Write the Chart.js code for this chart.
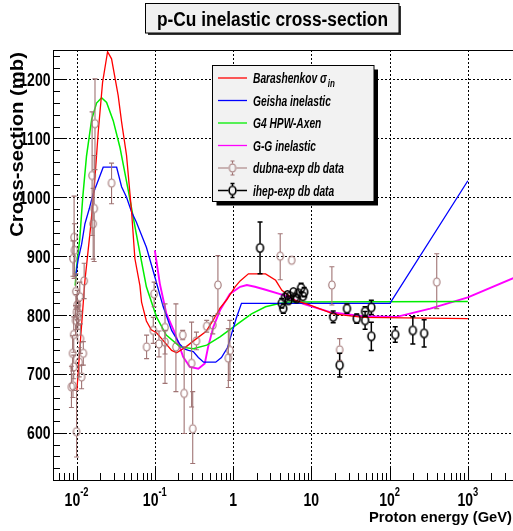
<!DOCTYPE html>
<html>
<head>
<meta charset="utf-8">
<title>p-Cu inelastic cross-section</title>
<script src="https://cdn.jsdelivr.net/npm/chart.js@4.4.1/dist/chart.umd.min.js"></script>
<style>
  html, body { margin: 0; padding: 0; background: #fff; overflow: hidden; }
  canvas { display: block; }
</style>
</head>
<body>
<canvas id="xsChart" width="520" height="531"></canvas>
<script>
// model curves: proton energy (GeV) -> inelastic cross-section (mb)
const barE  = [0.0101, 0.0113, 0.0128, 0.0150, 0.0168, 0.0189, 0.0215, 0.0249, 0.0280, 0.0340, 0.0376, 0.0435, 0.0505, 0.0556, 0.0645, 0.0677, 0.078, 0.090, 0.105, 0.122, 0.164, 0.190, 0.250, 0.340, 0.450, 0.550, 0.680, 0.830, 1.06, 1.23, 1.57, 2.6, 3.5, 4.2, 6.2, 9.1, 19, 46, 1000];
const barXS = [672, 763, 859, 945, 1015, 1110, 1195, 1247, 1235, 1173, 1128, 1071, 975, 896, 850, 822, 790, 775, 770, 760, 740, 736, 746, 760, 772, 790, 812, 826, 848, 858, 870, 870, 859, 842, 825, 818, 802, 796, 794];

const geiE  = [0.0097, 0.0105, 0.0116, 0.0128, 0.0145, 0.0163, 0.0219, 0.0325, 0.0376, 0.0435, 0.0505, 0.058, 0.078, 0.1, 0.128, 0.164, 0.21, 0.242, 0.27, 0.31, 0.36, 0.42, 0.6, 0.71, 0.85, 0.96, 1.1, 1.28, 101, 1000];
const geiXS = [865, 895, 920, 955, 980, 1006, 1051, 1051, 1018, 1000, 975, 958, 915, 865, 814, 774, 750, 742, 740, 738, 728, 720, 720, 728, 745, 769, 795, 820, 820, 1028];

const hpwE  = [0.0096, 0.0100, 0.0110, 0.0120, 0.0134, 0.0156, 0.018, 0.0209, 0.0242, 0.0294, 0.0358, 0.0457, 0.058, 0.0645, 0.078, 0.105, 0.14, 0.21, 0.31, 0.46, 0.68, 1.23, 1.72, 2.6, 4.0, 5.3, 1000];
const hpwXS = [850, 880, 930, 1000, 1070, 1132, 1160, 1169, 1161, 1130, 1085, 1012, 938, 905, 848, 797, 766, 746, 743, 749, 763, 788, 802, 814, 820, 822, 823];

const ggE  = [0.1, 0.116, 0.14, 0.18, 0.23, 0.28, 0.36, 0.435, 0.48, 0.56, 0.68, 0.91, 1.23, 1.5, 1.9, 2.6, 4.4, 7.9, 17.4, 46, 123, 330, 1000, 4000];
const ggXS = [910, 853, 803, 770, 729, 712, 709, 718, 746, 780, 808, 836, 848, 851, 848, 843, 834, 819, 805, 798, 797, 811, 830, 864];

// measured points with lower / upper errors (mb)
const dubE  = [0.0086, 0.0090, 0.0089, 0.0092, 0.0092, 0.0093, 0.0094, 0.0090, 0.0100, 0.0097, 0.0098, 0.0100, 0.0102, 0.0104, 0.0106, 0.0110, 0.0108, 0.0112, 0.0116, 0.0122, 0.0125, 0.0158, 0.0163, 0.0168, 0.0172, 0.028, 0.0785, 0.0955, 0.098, 0.113, 0.135, 0.135, 0.186, 0.227, 0.237, 0.295, 0.305, 0.34, 0.46, 0.55, 0.64, 0.87, 0.91, 4.0, 5.6, 18.3, 23, 400];
const dubXS = [678, 680, 735, 712, 767, 932, 910, 896, 602, 791, 840, 805, 817, 796, 803, 831, 720, 760, 695, 735, 858, 1037, 955, 981, 1125, 1024, 746, 774, 836, 751, 779, 754, 746, 766, 667, 718, 607, 756, 781, 783, 851, 727, 740, 900, 893, 851, 741, 856];
const dubLo = [35, 20, 30, 20, 30, 70, 45, 30, 43, 25, 30, 30, 25, 20, 20, 25, 25, 25, 20, 20, 30, 102, 60, 90, 78, 35, 20, 22, 22, 22, 95, 20, 76, 8, 68, 74, 59, 15, 10, 15, 49, 50, 51, 40, 5, 34, 18, 45];
const dubHi = [35, 20, 30, 20, 30, 70, 45, 30, 70, 25, 30, 30, 25, 20, 20, 25, 25, 25, 20, 20, 30, 108, 60, 90, 76, 34, 20, 22, 20, 22, 40, 20, 73, 8, 79, 70, 63, 15, 10, 15, 50, 50, 51, 38, 5, 31, 19, 48];

const ihepE   = [2.21, 4.18, 4.38, 4.6, 4.95, 5.1, 5.35, 5.9, 6.2, 6.5, 6.8, 7.4, 7.8, 8.1, 19.0, 23, 28.5, 38, 48.6, 48.6, 58.4, 58.4, 118, 198, 276];
const ihepXS  = [914, 820, 811, 830, 834, 825, 832, 839, 830, 828, 837, 846, 832, 839, 797, 715, 811, 794, 806, 791, 813, 764, 767, 774, 769];
const ihepErr = [44, 8, 8, 6, 6, 6, 6, 6, 6, 6, 6, 8, 6, 8, 10, 20, 8, 8, 8, 15, 12, 24, 13, 23, 23];

// axes
const xTicks = [0.01, 0.1, 1, 10, 100, 1000];
const xTickLabels = [["10", "-2"], ["10", "-1"], ["1", ""], ["10", ""], ["10", "2"], ["10", "3"]];
const yTicks = [600, 700, 800, 900, 1000, 1100, 1200];

const legendNames = ["Barashenkov \u03c3", "Geisha inelastic", "G4 HPW-Axen", "G-G inelastic", "dubna-exp db data", "ihep-exp db data"];

const FONT = '"Liberation Sans", Arial, Helvetica, sans-serif';
const DUBNA = "#a07474";
const lineColors = ["#ff0000", "#0000ff", "#00ee00", "#ff00ff"];

const pts = (xs, ys) => xs.map((x, i) => ({ x: x, y: ys[i] }));

// open elliptical markers (the whole figure is slightly squeezed sideways)
function ring(color, rx, ry, lw) {
    const c = document.createElement("canvas");
    c.width = Math.ceil(2 * rx + lw + 2);
    c.height = Math.ceil(2 * ry + lw + 2);
    const g = c.getContext("2d");
    g.strokeStyle = color;
    g.lineWidth = lw;
    g.beginPath();
    g.ellipse(c.width / 2, c.height / 2, rx, ry, 0, 0, Math.PI * 2);
    g.stroke();
    return c;
}
const dubRing = ring(DUBNA, 3.2, 4.0, 1.1);
const ihepRing = ring("#000", 3.4, 4.2, 1.6);

function putText(ctx, str, x, y, font, sx, align) {
    ctx.save();
    ctx.font = font;
    ctx.textAlign = "left";
    ctx.textBaseline = "alphabetic";
    const w = ctx.measureText(str).width * sx;
    const x0 = align === "right" ? x - w : align === "center" ? x - w / 2 : x;
    ctx.translate(x0, y);
    ctx.scale(sx, 1);
    ctx.fillText(str, 0, 0);
    ctx.restore();
    return w;
}

function textW(ctx, str, font, sx) {
    ctx.save();
    ctx.font = font;
    const w = ctx.measureText(str).width * sx;
    ctx.restore();
    return w;
}

function errorBars(ctx, xs, ys, E, V, lo, hi, color, lw, gap) {
    ctx.save();
    ctx.strokeStyle = color;
    ctx.lineWidth = lw;
    for (let i = 0; i < E.length; i++) {
        const x = xs.getPixelForValue(E[i]);
        const y = ys.getPixelForValue(V[i]);
        const yt = ys.getPixelForValue(V[i] + hi[i]);
        const yb = ys.getPixelForValue(V[i] - lo[i]);
        ctx.beginPath();
        if (y - yt > gap) {
            ctx.moveTo(x, y - gap); ctx.lineTo(x, yt);
            ctx.moveTo(x - 2.5, yt); ctx.lineTo(x + 2.5, yt);
        }
        if (yb - y > gap) {
            ctx.moveTo(x, y + gap); ctx.lineTo(x, yb);
            ctx.moveTo(x - 2.5, yb); ctx.lineTo(x + 2.5, yb);
        }
        ctx.stroke();
    }
    ctx.restore();
}

const rootLook = {
    id: "rootLook",
    beforeDatasetsDraw(chart) {
        const { ctx, chartArea: a, scales: { x, y } } = chart;
        ctx.save();
        ctx.strokeStyle = "#000";
        ctx.lineWidth = 1;
        ctx.setLineDash([2, 2]);
        ctx.beginPath();
        x.ticks.forEach(t => {
            const px = Math.round(x.getPixelForValue(t.value)) + 0.5;
            ctx.moveTo(px, a.top); ctx.lineTo(px, a.bottom);
        });
        y.ticks.forEach(t => {
            const py = Math.round(y.getPixelForValue(t.value)) + 0.5;
            ctx.moveTo(a.left, py); ctx.lineTo(a.right, py);
        });
        ctx.stroke();
        ctx.restore();
    },
    afterDatasetsDraw(chart) {
        const { ctx, chartArea: a, scales: { x, y } } = chart;
        ctx.save();
        ctx.beginPath();
        ctx.rect(a.left, a.top, a.right - a.left, a.bottom - a.top);
        ctx.clip();
        errorBars(ctx, x, y, dubE, dubXS, dubLo, dubHi, DUBNA, 1.1, 4.2);
        errorBars(ctx, x, y, ihepE, ihepXS, ihepErr, ihepErr, "#000", 1.5, 4.6);
        ctx.restore();
    },
    afterDraw(chart) {
        const { ctx, chartArea: a, scales: { x, y } } = chart;
        ctx.save();
        ctx.fillStyle = "#000";
        ctx.strokeStyle = "#000";
        ctx.lineWidth = 1;

        // frame
        ctx.strokeRect(a.left + 0.5, a.top + 0.5, a.right - a.left - 1, a.bottom - a.top);

        // inner ticks
        ctx.beginPath();
        for (let v = 520; v <= 1250; v += 20) {
            const py = Math.round(y.getPixelForValue(v)) + 0.5;
            const len = v % 100 === 0 ? 13 : 7;
            ctx.moveTo(a.left, py); ctx.lineTo(a.left + len, py);
        }
        for (let d = -3; d <= 3; d++) {
            for (let k = 1; k <= 9; k++) {
                const v = k * Math.pow(10, d);
                if (v < x.min || v > x.max) continue;
                const px = Math.round(x.getPixelForValue(v)) + 0.5;
                ctx.moveTo(px, a.bottom); ctx.lineTo(px, a.bottom - (k === 1 ? 13 : 7));
            }
        }
        ctx.stroke();

        // y tick labels
        const numFont = "bold 18px " + FONT;
        y.ticks.forEach(t => {
            putText(ctx, String(t.value), 50.5, y.getPixelForValue(t.value) + 6.5, numFont, 0.78, "right");
        });

        // x tick labels (power of ten with raised exponent)
        const supFont = "bold 12px " + FONT;
        x.ticks.forEach((t, i) => {
            const [base, sup] = xTickLabels[i];
            const wb = textW(ctx, base, numFont, 0.78);
            const ws = sup ? textW(ctx, sup, supFont, 0.78) : 0;
            const x0 = x.getPixelForValue(t.value) - (wb + ws) / 2;
            putText(ctx, base, x0, 506, numFont, 0.78, "left");
            if (sup) putText(ctx, sup, x0 + wb, 496, supFont, 0.78, "left");
        });

        // axis titles
        const xtFont = "bold 15.5px " + FONT;
        const xtStr = "Proton energy (GeV)";
        putText(ctx, xtStr, 512, 522, xtFont, 143 / textW(ctx, xtStr, xtFont, 1), "right");
        ctx.save();
        ctx.translate(22.7, 52);
        ctx.rotate(-Math.PI / 2);
        ctx.scale(1, 0.87);
        ctx.font = "bold 20.3px " + FONT;
        ctx.textAlign = "right";
        ctx.fillText("Cross-section (mb)", 0, 0);
        ctx.restore();

        // title box
        ctx.fillStyle = "#333";
        ctx.fillRect(148, 32.5, 253, 2.5);
        ctx.fillRect(398.5, 6, 2.5, 29);
        ctx.fillStyle = "#f0f0f0";
        ctx.fillRect(145.5, 3.5, 253.5, 29.5);
        ctx.strokeRect(145.5, 3.5, 253.5, 29.5);
        ctx.fillStyle = "#000";
        const tFont = "bold 19.5px " + FONT;
        const tStr = "p-Cu inelastic cross-section";
        putText(ctx, tStr, 272.5, 26, tFont, 231 / textW(ctx, tStr, tFont, 1), "center");

        // legend
        ctx.fillStyle = "#000";
        ctx.fillRect(216.5, 69.5, 161.5, 136);
        ctx.fillStyle = "#f2f2f2";
        ctx.fillRect(212.5, 65.5, 161.5, 136);
        ctx.strokeRect(212.5, 65.5, 161.5, 136);
        const lFont = "italic bold 14px " + FONT;
        legendNames.forEach((name, i) => {
            const ry = 78 + 22.5 * i;
            ctx.save();
            if (i < 4) {
                ctx.strokeStyle = lineColors[i];
                ctx.lineWidth = 1.3;
                ctx.beginPath(); ctx.moveTo(218, ry); ctx.lineTo(247, ry); ctx.stroke();
            } else {
                const col = i === 4 ? DUBNA : "#000";
                const mk = i === 4 ? dubRing : ihepRing;
                ctx.strokeStyle = col;
                ctx.lineWidth = i === 4 ? 1.1 : 1.4;
                ctx.beginPath();
                ctx.moveTo(218, ry); ctx.lineTo(228.5, ry);
                ctx.moveTo(236.5, ry); ctx.lineTo(247, ry);
                ctx.moveTo(232.5, ry - 4.5); ctx.lineTo(232.5, ry - 7);
                ctx.moveTo(232.5, ry + 4.5); ctx.lineTo(232.5, ry + 7);
                ctx.moveTo(230.5, ry - 7); ctx.lineTo(234.5, ry - 7);
                ctx.moveTo(230.5, ry + 7); ctx.lineTo(234.5, ry + 7);
                ctx.stroke();
                ctx.drawImage(mk, 232.5 - mk.width / 2, ry - mk.height / 2);
            }
            ctx.restore();
            ctx.fillStyle = "#000";
            const w = putText(ctx, name, 253, ry + 5, lFont, 0.73, "left");
            if (i === 0) putText(ctx, "in", 253 + w + 1, ry + 9, "italic bold 10px " + FONT, 0.8, "left");
        });
        ctx.restore();
    }
};

const curve = (label, E, V, color, width) => ({
    label: label, data: pts(E, V), showLine: true, borderColor: color,
    borderWidth: width, pointRadius: 0, tension: 0, fill: false, order: 1
});

new Chart(document.getElementById("xsChart"), {
    type: "scatter",
    data: {
        datasets: [
            { label: "dubna-exp db data", data: pts(dubE, dubXS), pointStyle: dubRing, pointRadius: 4, showLine: false, order: 0 },
            { label: "ihep-exp db data", data: pts(ihepE, ihepXS), pointStyle: ihepRing, pointRadius: 4, showLine: false, order: 0 },
            curve("Barashenkov", barE, barXS, lineColors[0], 1.3),
            curve("Geisha inelastic", geiE, geiXS, lineColors[1], 1.3),
            curve("G4 HPW-Axen", hpwE, hpwXS, lineColors[2], 1.5),
            curve("G-G inelastic", ggE, ggXS, lineColors[3], 1.9)
        ]
    },
    options: {
        responsive: false,
        animation: false,
        events: [],
        layout: { padding: { top: 50, right: 5, left: 0, bottom: 0 } },
        plugins: { legend: { display: false }, tooltip: { enabled: false }, title: { display: false } },
        scales: {
            x: {
                type: "logarithmic", min: 0.005, max: 4000,
                grid: { display: false }, border: { display: false }, ticks: { display: false },
                afterBuildTicks: s => { s.ticks = xTicks.map(v => ({ value: v })); },
                afterFit: s => { s.height = 51; }
            },
            y: {
                type: "linear", min: 520, max: 1250,
                grid: { display: false }, border: { display: false }, ticks: { display: false },
                afterBuildTicks: s => { s.ticks = yTicks.map(v => ({ value: v })); },
                afterFit: s => { s.width = 53; }
            }
        }
    },
    plugins: [rootLook]
});
</script>
</body>
</html>
